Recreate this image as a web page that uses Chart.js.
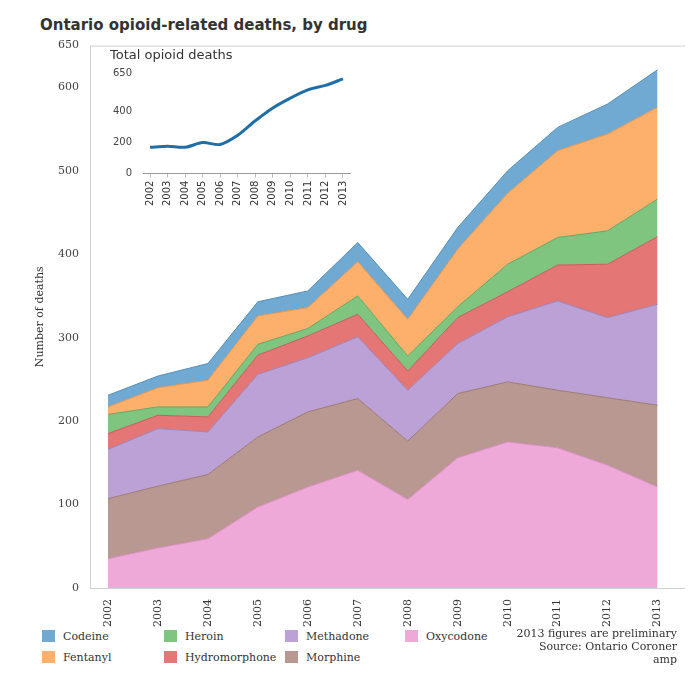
<!DOCTYPE html>
<html>
<head>
<meta charset="utf-8">
<script src="https://cdn.jsdelivr.net/npm/chart.js@4"></script>
<style>
  body { margin: 0; background: #fff; width: 693px; height: 679px; position: relative; font-family: "DejaVu Sans", sans-serif; }
  #title { position: absolute; left: 40px; top: 16px; font-size: 15px; font-weight: bold; color: #333; }
  #main { position: absolute; left: 30px; top: 36px; width: 655px; height: 592px; }
  #inset { position: absolute; left: 108px; top: 64px; width: 250px; height: 145px; }
  #insetTitle { position: absolute; left: 110px; top: 47px; font-size: 13px; color: #333; }
  #legend { position: absolute; left: 42px; top: 630px; font-size: 11px; font-family: "DejaVu Serif", serif; color: #333; }
  .item { position: absolute; white-space: nowrap; }
  .sw { display: inline-block; width: 13px; height: 12px; vertical-align: -2px; margin-right: 8px; }
  #note { position: absolute; right: 16px; top: 627px; text-align: right; font-size: 11px; font-family: "DejaVu Serif", serif; color: #333; line-height: 13px; }
</style>
</head>
<body>
<div id="title">Ontario opioid-related deaths, by drug</div>
<div id="main"><canvas id="c"></canvas></div>
<div id="insetTitle">Total opioid deaths</div>
<div id="inset"><canvas id="c2"></canvas></div>
<div id="legend"></div>
<div id="note">2013 figures are preliminary<br>Source: Ontario Coroner<br>amp</div>
<script>
const years = [2002, 2003, 2004, 2005, 2006, 2007, 2008, 2009, 2010, 2011, 2012, 2013];
const oxycodone = [35, 48, 59, 97, 121, 141, 106, 156, 175, 168, 147, 121];
const morphine = [72, 74, 77, 84, 90, 86, 70, 77, 72, 69, 81, 98];
const methadone = [59, 69, 51, 75, 65, 74, 61, 60, 78, 107, 96, 121];
const hydromorphone = [19, 16, 18, 23, 26, 27, 23, 31, 30, 43, 64, 81];
const heroin = [23, 10, 12, 13, 9, 22, 18, 13, 33, 33, 40, 45];
const fentanyl = [9, 23, 32, 34, 25, 41, 44, 69, 85, 104, 116, 110];
const codeine = [14, 14, 20, 17, 20, 23, 24, 26, 27, 28, 36, 45];
const totalDeaths = [170, 176, 170, 200, 188, 247, 341, 424, 488, 541, 570, 612];

const series = [
  { label: 'Oxycodone', data: oxycodone, color: '#efa9d9', line: '#d98cc2' },
  { label: 'Morphine', data: morphine, color: '#b89890', line: '#9a7a70' },
  { label: 'Methadone', data: methadone, color: '#bba1d6', line: '#9b82b8' },
  { label: 'Hydromorphone', data: hydromorphone, color: '#e57676', line: '#c85a5a' },
  { label: 'Heroin', data: heroin, color: '#7fc47f', line: '#62a862' },
  { label: 'Fentanyl', data: fentanyl, color: '#fdb06c', line: '#e6954f' },
  { label: 'Codeine', data: codeine, color: '#70a9d2', line: '#5590bb' }
];

const frame = {
  id: 'frame',
  afterDraw(chart) {
    const a = chart.chartArea, ctx = chart.ctx;
    ctx.save();
    ctx.strokeStyle = '#d0d0d0';
    ctx.lineWidth = 1;
    ctx.strokeRect(a.left + 0.5, a.top + 0.5, a.right - a.left, a.bottom - a.top);
    ctx.restore();
  }
};

new Chart(document.getElementById('c'), {
  type: 'line',
  data: {
    datasets: series.map((s, i) => ({
      label: s.label,
      data: years.map((y, j) => ({ x: y, y: s.data[j] })),
      backgroundColor: s.color,
      borderColor: s.line,
      borderWidth: 1,
      pointRadius: 0,
      tension: 0,
      fill: i === 0 ? 'origin' : '-1'
    }))
  },
  options: {
    responsive: true,
    maintainAspectRatio: false,
    animation: false,
    layout: { padding: { top: 4, right: 0 } },
    plugins: { legend: { display: false }, tooltip: { enabled: false } },
    scales: {
      x: {
        type: 'linear', min: 2001.64, max: 2013.55,
        afterBuildTicks: ax => { ax.ticks = years.map(v => ({ value: v })); },
        afterFit: ax => { ax.height = 40; },
        grid: { display: false },
        border: { display: false },
        ticks: { maxRotation: 90, minRotation: 90, color: '#333', callback: v => String(v),
          font: { family: 'DejaVu Serif', size: 11 } }
      },
      y: {
        stacked: true, min: 0, max: 650,
        afterFit: ax => { ax.width = 60; },
        grid: { display: false },
        border: { display: false },
        ticks: { stepSize: 100, color: '#444', font: { family: 'DejaVu Serif', size: 11 } },
        title: { display: true, text: 'Number of deaths', color: '#333', font: { family: 'DejaVu Serif', size: 11 } }
      }
    }
  },
  plugins: [frame]
});

new Chart(document.getElementById('c2'), {
  type: 'line',
  data: {
    datasets: [{
      data: years.map((y, j) => ({ x: y, y: totalDeaths[j] })),
      borderColor: '#1f6ea8', borderWidth: 3, pointRadius: 0, tension: 0.3, fill: false
    }]
  },
  options: {
    responsive: true,
    maintainAspectRatio: false,
    animation: false,
    plugins: { legend: { display: false }, tooltip: { enabled: false } },
    scales: {
      x: {
        type: 'linear', min: 2001.6, max: 2013.4,
        afterBuildTicks: ax => { ax.ticks = years.map(v => ({ value: v })); },
        grid: { display: true, drawOnChartArea: false, tickLength: 4, color: '#bbb' },
        border: { color: '#999' },
        ticks: { maxRotation: 90, minRotation: 90, color: '#333', callback: v => String(v),
          font: { family: 'DejaVu Sans', size: 10 } }
      },
      y: {
        min: 0, max: 650,
        afterFit: ax => { ax.width = 35; },
        grid: { display: false },
        border: { display: false },
        ticks: { stepSize: 200, color: '#444', font: { family: 'DejaVu Sans', size: 10 } }
      }
    }
  }
});

const legendItems = [
  ['Codeine', '#70a9d2', 0, 0], ['Heroin', '#7fc47f', 122, 0], ['Methadone', '#bba1d6', 243, 0], ['Oxycodone', '#efa9d9', 363, 0],
  ['Fentanyl', '#fdb06c', 0, 21], ['Hydromorphone', '#e57676', 122, 21], ['Morphine', '#b89890', 243, 21]
];
const lg = document.getElementById('legend');
legendItems.forEach(([name, col, x, y]) => {
  const d = document.createElement('div');
  d.className = 'item';
  d.style.left = x + 'px';
  d.style.top = y + 'px';
  d.innerHTML = '<span class="sw" style="background:' + col + '"></span>' + name;
  lg.appendChild(d);
});
</script>
</body>
</html>
